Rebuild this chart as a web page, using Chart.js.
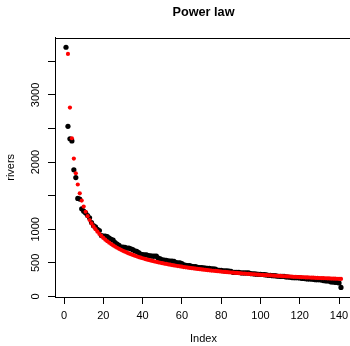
<!DOCTYPE html>
<html>
<head>
<meta charset="utf-8">
<script src="https://cdn.jsdelivr.net/npm/chart.js@4.4.1/dist/chart.umd.min.js"></script>
<style>
  html, body { margin: 0; padding: 0; background: #fff; overflow: hidden; }
  #wrap { width: 360px; height: 346px; }
</style>
</head>
<body>
<div id="wrap"><canvas id="myChart" width="360" height="346"></canvas></div>
<script>
// rivers, sorted from longest to shortest
const rivers = [
  3710, 2533, 2348, 2315, 1885, 1770, 1459, 1450, 1306, 1270, 1243, 1205, 1171, 1100, 1054, 1038, 1000,
  981, 906, 900, 900, 890, 870, 850, 840, 800, 780, 760, 735, 735, 730, 720, 720, 710,
  696, 680, 671, 652, 630, 625, 620, 618, 610, 605, 600, 600, 600, 570, 560, 545, 540, 538, 529, 525, 525, 524, 505, 500, 500,
  490, 470, 465, 460, 460, 450, 445, 444, 435, 431, 430, 425, 424, 420, 420, 411, 410, 407,
  392, 390, 390, 383, 380, 380, 377, 375, 360, 360, 360, 360, 352, 350, 350, 350, 350, 340, 338, 336, 332, 330, 329, 327, 325, 320, 315, 314, 310, 310, 306, 301, 300, 300, 300,
  291, 290, 286, 281, 280, 280, 280, 276, 270, 268, 265, 260, 260, 259, 255, 250, 250, 250, 246, 237, 233, 230, 230, 217, 215, 210, 210, 202,
  135
];

// red fitted curve (first one is off the top of the plot)
const fitted = [
  null, 3611, 2812, 2355, 2052, 1834, 1667, 1535, 1428, 1338, 1261, 1195, 1138, 1087, 1042, 1001, 964, 931, 901, 872,
  846, 822, 800, 780, 760, 742, 725, 709, 694, 679, 666, 653, 640, 629, 618, 607, 597, 587, 578, 569,
  560, 552, 544, 536, 529, 522, 515, 508, 502, 496, 490, 484, 478, 473, 467, 462, 457, 452, 448, 443,
  438, 434, 430, 425, 421, 417, 414, 410, 406, 403, 399, 396, 392, 389, 386, 383, 380, 377, 374, 371,
  368, 365, 362, 360, 357, 355, 352, 350, 347, 345, 342, 340, 338, 336, 334, 331, 329, 327, 325, 323,
  321, 319, 317, 315, 314, 312, 310, 308, 306, 305, 303, 301, 300, 298, 297, 295, 293, 292, 290, 289,
  287, 286, 284, 283, 282, 280, 279, 277, 276, 275, 273, 272, 271, 270, 269, 267, 266, 265, 264, 263,
  261
];

const xTicks = [0, 20, 40, 60, 80, 100, 120, 140];
const yTicks = [0, 500, 1000, 1500, 2000, 2500, 3000, 3500];
const yLabels = ['0', '500', '1000', '', '2000', '', '3000', ''];

const FONT = "'Liberation Sans', Arial, Helvetica, sans-serif";

const blackPts = rivers.map((v, i) => ({ x: i + 1, y: v }));
const redPts = fitted.map((v, i) => ({ x: i + 1, y: v }));

// frame round the plot like R's box()
const boxPlugin = {
    id: 'box',
    beforeDatasetsDraw(chart) {
        const ctx = chart.ctx;
        const a = chart.chartArea;
        const l = Math.round(a.left) + 0.5, r = Math.round(a.right) + 0.5;
        const t = Math.round(a.top) + 0.5, b = Math.round(a.bottom) + 0.5;
        ctx.save();
        ctx.strokeStyle = '#000';
        ctx.lineWidth = 1;
        ctx.strokeRect(l, t, r - l, b - t);
        ctx.restore();
    }
};

const ctx = document.getElementById('myChart').getContext('2d');
const myChart = new Chart(ctx, {
    type: 'scatter',
    data: {
        datasets: [{
            label: 'fit',
            data: redPts,
            backgroundColor: '#ff0000',
            borderWidth: 0,
            pointRadius: 2.1,
            order: 0
        }, {
            label: 'rivers',
            data: blackPts,
            backgroundColor: '#000000',
            borderWidth: 0,
            pointRadius: 2.6,
            order: 1
        }]
    },
    plugins: [boxPlugin],
    options: {
        responsive: false,
        animation: false,
        layout: { padding: { left: 0, right: 8, top: 0, bottom: 0 } },
        plugins: {
            legend: { display: false },
            tooltip: { enabled: false },
            title: {
                display: true,
                text: 'Power law',
                fullSize: false,
                color: '#000',
                font: { family: FONT, size: 12.7, weight: 'bold' },
                padding: { top: 5, bottom: 17.4 }
            }
        },
        scales: {
            x: {
                type: 'linear',
                min: -4.6,
                max: 146.6,
                afterBuildTicks: (s) => { s.ticks = xTicks.map(v => ({ value: v })); },
                afterFit: (s) => { s.height = 49; },
                ticks: {
                    color: '#000',
                    font: { family: FONT, size: 11 },
                    padding: 5,
                    maxRotation: 0,
                    autoSkip: false
                },
                grid: { drawOnChartArea: false, drawTicks: true, tickLength: 7, color: '#000' },
                border: { display: true, color: '#000' },
                title: {
                    display: true,
                    text: 'Index',
                    color: '#000',
                    font: { family: FONT, size: 11 },
                    padding: { top: 0, bottom: 0 }
                }
            },
            y: {
                type: 'linear',
                min: -8,
                max: 3853,
                afterBuildTicks: (s) => { s.ticks = yTicks.map(v => ({ value: v })); },
                afterFit: (s) => { s.width = 55; },
                ticks: {
                    color: '#000',
                    font: { family: FONT, size: 11 },
                    padding: 0,
                    minRotation: 90,
                    maxRotation: 90,
                    crossAlign: 'center',
                    autoSkip: false,
                    callback: (v, i) => yLabels[i]
                },
                grid: { drawOnChartArea: false, drawTicks: true, tickLength: 7, color: '#000' },
                border: { display: true, color: '#000' },
                title: {
                    display: true,
                    text: 'rivers',
                    color: '#000',
                    font: { family: FONT, size: 11 },
                    padding: { top: 4, bottom: 0 }
                }
            }
        }
    }
});
</script>
</body>
</html>
